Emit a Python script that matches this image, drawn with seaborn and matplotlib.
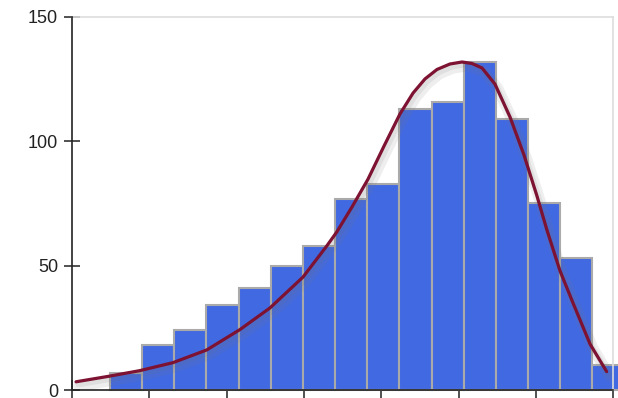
import seaborn as sns
import matplotlib.pyplot as plt
import matplotlib.patheffects as pe
import numpy as np
import pandas as pd

# histogram counts
counts = [7, 18, 24, 34, 41, 50, 58, 77, 83, 113, 116, 132, 109, 75, 53, 10]
bin_start = 0.491
bin_width = 0.4158

# fitted curve, points
curve_x = [0.052, 0.491, 0.879, 1.306, 1.742, 2.172, 2.560, 2.987, 3.294, 3.423,
           3.621, 3.828, 4.035, 4.241, 4.410, 4.565, 4.720, 4.888, 5.043, 5.172,
           5.302, 5.470, 5.664, 5.845, 6.013, 6.142, 6.311, 6.479, 6.699, 6.914]
curve_y = [3.3, 5.6, 7.8, 11.0, 16.1, 24.3, 33.0, 45.4, 57.9, 63.5,
           73.6, 84.8, 98.1, 111.0, 119.4, 125.1, 128.9, 131.1, 131.9, 131.3,
           129.5, 123.0, 109.8, 94.5, 78.0, 64.3, 47.9, 35.0, 18.5, 7.4]

y_ticks = [0, 50, 100, 150]
x_ticks = [0, 1, 2, 3, 4, 5, 6, 7]

edges = [float(e) for e in bin_start + bin_width * np.arange(len(counts) + 1)]
centers = [(a + b) / 2 for a, b in zip(edges[:-1], edges[1:])]
hist = pd.DataFrame({'x': centers, 'n': counts})
curve = pd.DataFrame({'x': curve_x, 'y': curve_y})

sns.set_style('white')
plt.rcParams['font.family'] = ['Liberation Sans', 'DejaVu Sans']

fig = plt.figure(figsize=(6.18, 3.98), dpi=100)
ax = fig.add_axes([0.1165, 0.0201, 0.8759, 0.9372])

sns.histplot(data=hist, x='x', weights='n', bins=edges, ax=ax,
             color='#4169e1', edgecolor='#aaaaaa', linewidth=1.5, alpha=1)
for p in ax.patches:
    p.set_clip_on(False)

sns.lineplot(data=curve, x='x', y='y', ax=ax, color='#7d1232', linewidth=2.3,
             solid_joinstyle='round', solid_capstyle='round',
             path_effects=[pe.SimpleLineShadow(offset=(2, -3), shadow_color='#777777',
                                               alpha=0.12, linewidth=8),
                           pe.SimpleLineShadow(offset=(1.5, -2), shadow_color='#777777',
                                               alpha=0.12, linewidth=4),
                           pe.Normal()])

ax.set_xlim(0, 7)
ax.set_ylim(0, 150)
ax.set_xticks(x_ticks)
ax.set_xticklabels([])
ax.set_yticks(y_ticks)
ax.set_xlabel('')
ax.set_ylabel('')

for s in ['left', 'bottom']:
    ax.spines[s].set_color('#222222')
    ax.spines[s].set_linewidth(1.2)
    ax.spines[s].set_zorder(5)
for s in ['top', 'right']:
    ax.spines[s].set_color('#dddddd')
    ax.spines[s].set_linewidth(1.2)

ax.tick_params(axis='y', left=True, direction='inout', length=12, width=1.1,
               color='#222222', labelsize=13, labelcolor='#222222', pad=4)
ax.tick_params(axis='x', bottom=True, direction='inout', length=14, width=1.1,
               color='#222222')
for t in ax.xaxis.get_ticklines() + ax.yaxis.get_ticklines():
    t.set_clip_on(False)
    t.set_zorder(6)

fig.savefig('out.png', dpi=100)
